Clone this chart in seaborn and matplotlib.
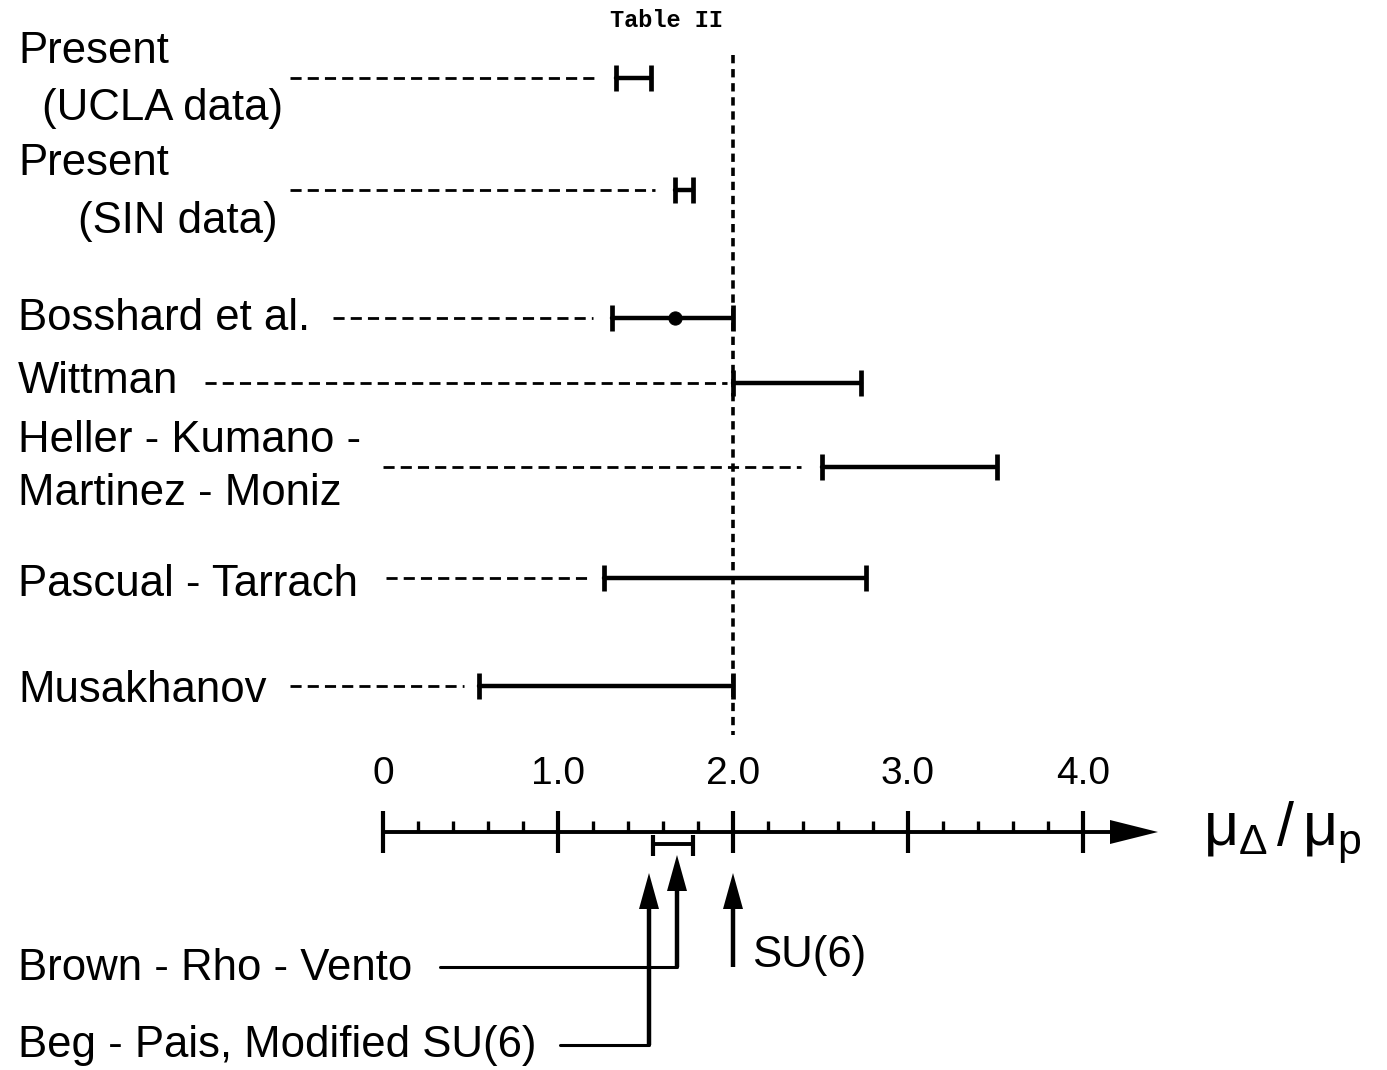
import numpy as np
import pandas as pd
import matplotlib
matplotlib.use('Agg')
import matplotlib.pyplot as plt
import seaborn as sns

sns.set_style('white')
plt.rcParams['font.family'] = ['Liberation Sans', 'DejaVu Sans']
plt.rcParams['text.color'] = 'black'
plt.rcParams['mathtext.fontset'] = 'custom'
plt.rcParams['mathtext.rm'] = 'Liberation Sans'
plt.rcParams['mathtext.it'] = 'Liberation Sans'

# measured intervals for mu_Delta / mu_p
studies = ['UCLA', 'SIN', 'Bosshard', 'Wittman', 'Heller', 'Pascual', 'Musakhanov']
label_lines = [['Present', '(UCLA data)'], ['Present', '(SIN data)'], ['Bosshard et al.'],
               ['Wittman'], ['Heller - Kumano -', 'Martinez - Moniz'],
               ['Pascual - Tarrach'], ['Musakhanov']]
lo = [1.33, 1.67, 1.31, 2.00, 2.51, 1.26, 0.55]
hi = [1.53, 1.77, 2.00, 2.73, 3.51, 2.76, 2.00]
bosshard_center = 1.67

# theory predictions (arrows under the axis)
theory_names = ['Beg - Pais, Modified SU(6)', 'Brown - Rho - Vento', 'SU(6)']
theory_vals = [1.52, 1.68, 2.00]
brv_range = [1.54, 1.77]

major_ticks = [0, 1, 2, 3, 4]
major_labels = ['0', '1.0', '2.0', '3.0', '4.0']
minor_ticks = [t for t in np.round(np.arange(0.2, 4.0, 0.2), 1) if t not in major_ticks]

# ---- layout (pixel based) ----
X0, SCALE = 383, 175.0
def px(p):
    return (p - X0) / SCALE

row_y = [78, 190, 318, 383, 467, 578, 686]
line_x = [[18, 42], [18, 78], [18], [18], [18, 18], [18], [18]]
line_base = [[63, 120], [175, 233], [330], [393], [452, 505], [596], [702]]
lead_start = [290, 290, 333, 205, 383, 386, 290]
lead_gap = [18, 20, 19, 6, 21, 14, 15]
FS = 31.5

fig = plt.figure(figsize=(13.87, 10.70), dpi=100)
ax = fig.add_axes([0, 0, 1, 1])
ax.set_xlim(px(0), px(1387))
ax.set_ylim(1070, 0)
ax.axis('off')

# labels and dashed leaders
for i, lines in enumerate(label_lines):
    for txt, xx, yy in zip(lines, line_x[i], line_base[i]):
        ax.text(px(xx), yy, txt, fontsize=FS, ha='left', va='baseline')
    ax.plot([px(lead_start[i]), lo[i] - lead_gap[i] / SCALE], [row_y[i]] * 2,
            color='black', lw=2.0, ls=(0, (4, 2.2)))

# interval bars
seg = pd.DataFrame({'study': np.repeat(studies, 2),
                    'mu': np.ravel(np.column_stack([lo, hi])),
                    'y': np.repeat(row_y, 2)})
sns.lineplot(data=seg, x='mu', y='y', units='study', estimator=None, sort=False,
             color='black', lw=3.2, ax=ax, legend=False)
ax.vlines(lo, np.array(row_y) - 13, np.array(row_y) + 13, color='black', lw=3.4)
ax.vlines(hi, np.array(row_y) - 13, np.array(row_y) + 13, color='black', lw=3.4)
sns.scatterplot(x=[bosshard_center], y=[row_y[2]], s=90, color='black', ax=ax,
                edgecolor='black', legend=False, zorder=5)

# SU(6) dotted vertical
ax.vlines(theory_vals[2], 55, 735, color='black', lw=2.6, ls=(0, (2.3, 1.6)))

# horizontal axis with arrow
AY = 832
ax.plot([0, px(1120)], [AY, AY], color='black', lw=2.8, solid_capstyle='butt')
ax.fill([px(1110), px(1110), px(1158)], [AY - 12, AY + 12, AY], color='black', lw=0)
ax.vlines(major_ticks, AY - 21, AY + 21, color='black', lw=3)
ax.vlines(minor_ticks, AY - 11, AY, color='black', lw=2.4)
for t, l in zip(major_ticks, major_labels):
    ax.text(t, 784, l, fontsize=28, ha='center', va='baseline')
ax.text(px(1203), 845, r'$\mu_{\Delta}\,/\,\mu_{p}$', fontsize=44, ha='left', va='baseline')

# Brown-Rho-Vento range bracket
ax.plot(brv_range, [844, 844], color='black', lw=2.8)
ax.vlines(brv_range, 835, 856, color='black', lw=3)

# theory arrows
def up_arrow(x, tip, tail):
    hl, hw = 36, 10 / SCALE
    ax.vlines(x, tip + hl - 2, tail, color='black', lw=3.2)
    ax.fill([x - hw, x + hw, x], [tip + hl, tip + hl, tip], color='black', lw=0)

up_arrow(theory_vals[0], 873, 1045)
up_arrow(theory_vals[1], 855, 967)
up_arrow(theory_vals[2], 873, 967)
ax.plot([px(560), theory_vals[0]], [1045, 1045], color='black', lw=2.2)
ax.plot([px(440), theory_vals[1]], [967, 967], color='black', lw=2.2)
ax.text(px(18), 1057, theory_names[0], fontsize=FS, va='baseline')
ax.text(px(18), 980, theory_names[1], fontsize=FS, va='baseline')
ax.text(px(752), 967, theory_names[2], fontsize=FS, va='baseline')

ax.text(px(667), 27, 'Table II', family=['Liberation Mono', 'DejaVu Sans Mono'],
        fontsize=17, weight='bold', ha='center', va='baseline')

fig.savefig('out.png', dpi=100, facecolor='white')
